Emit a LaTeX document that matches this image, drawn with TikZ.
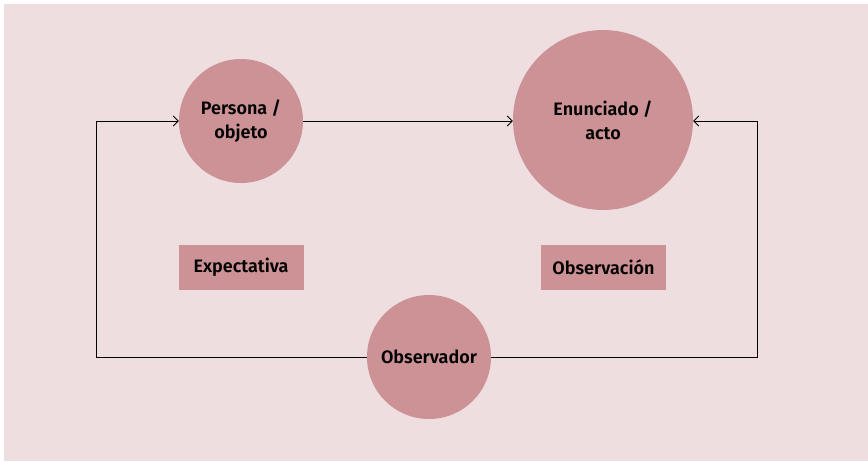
\documentclass[tikz,border=0pt]{standalone}
\usepackage{fontspec}
\setmainfont{Fira Sans}[BoldFont={Fira Sans SemiBold}]
\usetikzlibrary{positioning,arrows.meta}
\definecolor{bgpink}{RGB}{238,222,224}
\definecolor{rosa}{RGB}{204,146,149}
\tikzset{
  circ/.style={circle,fill=rosa,inner sep=0pt,align=center,font=\fontsize{18}{24}\selectfont\bfseries},
  tag/.style={rectangle,fill=rosa,minimum width=125pt,minimum height=45pt,inner sep=0pt,font=\fontsize{18}{24}\selectfont\bfseries},
  flow/.style={line width=0.9pt,-{Straight Barb[length=5pt,width=10pt]}}
}
\begin{document}
\begin{tikzpicture}[x=1pt,y=-1pt]
    \useasboundingbox (0,0) rectangle (868,461);
    \fill[bgpink] (4,4) rectangle (868,461);

          \node[circ,minimum size=124pt] (persona)    at (241,121) {Persona /\\objeto};
          \node[circ,minimum size=180pt] (enunciado)  at (603,120) {Enunciado /\\acto};
          \node[circ,minimum size=124pt] (observador) at (429,357) {Observador};
          \node[tag] (expectativa) at (241,267.5) {Expectativa};
          \node[tag] (observacion) at (603.5,267.5) {Observación};

          \coordinate (lbend) at (96,121);
          \coordinate (rbend) at (757,121);

          \draw[flow] (observador) -| (lbend) -- (persona);
          \draw[flow] (persona) -- (enunciado.west |- persona);
          \draw[flow] (observador) -| (rbend) -- (enunciado.east |- rbend);
        \end{tikzpicture}
\end{document}
